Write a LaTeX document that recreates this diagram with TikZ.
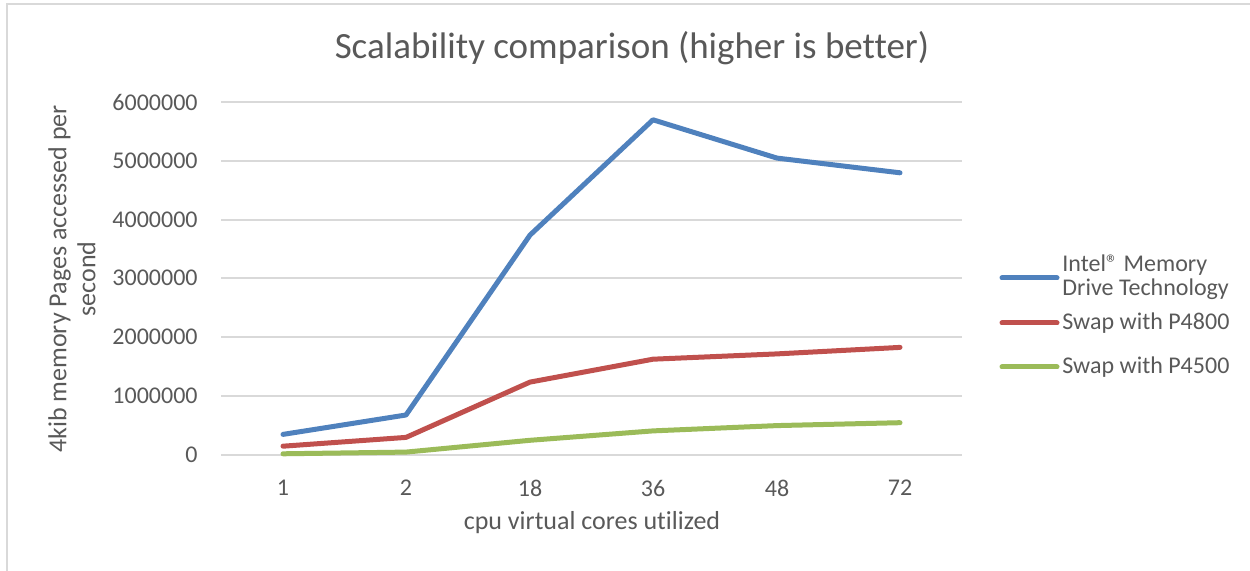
\documentclass[tikz,border=0pt]{standalone}
\usepackage{xcolor}
\usepackage{fontspec}
\setmainfont{Carlito}[Ligatures=NoCommon]
\usepackage{tikz}
\usetikzlibrary{positioning}

\definecolor{txtgray}{HTML}{595959}
\definecolor{gridgray}{HTML}{D9D9D9}
\definecolor{imdtblue}{HTML}{4F81BD}
\definecolor{swapred}{HTML}{C0504D}
\definecolor{swapgreen}{HTML}{9BBB59}

\tikzset{
	series/.style={line width=2.5pt, line cap=round, line join=round},
	gridline/.style={draw=gridgray, line width=1pt},
	ticklabel/.style={text=txtgray, font=\fontsize{12}{14}\selectfont, inner sep=0pt},
	axistitle/.style={text=txtgray, font=\fontsize{13}{14.5}\selectfont, inner sep=0pt, align=center},
	legendtext/.style={text=txtgray, font=\fontsize{12}{12}\selectfont, inner sep=0pt, align=left, anchor=west}
}

\begin{document}
\begin{tikzpicture}[x=0.5pt, y=-0.5pt]
				\useasboundingbox (0,0) rectangle (1250,571);
				\draw [gridgray, line width=1pt] (7,571) -- (7,4) -- (1250,4);
				
				\node [text=txtgray, font=\fontsize{18.5}{20}\selectfont, inner sep=0pt] (title) at (632,48) {Scalability comparison (higher is better)};
				
				% grid and value axis
				\draw [gridline] (221,102) -- (962,102);
				\draw [gridline] (221,161) -- (962,161);
				\draw [gridline] (221,220) -- (962,220);
				\draw [gridline] (221,278) -- (962,278);
				\draw [gridline] (221,337) -- (962,337);
				\draw [gridline] (221,396) -- (962,396);
				\draw [gridline] (221,455) -- (962,455);
				
				\node [ticklabel, anchor=east] (v6) at (198,102) {6000000};
				\node [ticklabel, anchor=east] (v5) at (198,161) {5000000};
				\node [ticklabel, anchor=east] (v4) at (198,220) {4000000};
				\node [ticklabel, anchor=east] (v3) at (198,278) {3000000};
				\node [ticklabel, anchor=east] (v2) at (198,337) {2000000};
				\node [ticklabel, anchor=east] (v1) at (198,396) {1000000};
				\node [ticklabel, anchor=east] (v0) at (198,455) {0};
				
				\node [ticklabel] (c1) at (283,488) {1};
				\node [ticklabel] (c2) at (406,488) {2};
				\node [ticklabel] (c18) at (530,488) {18};
				\node [ticklabel] (c36) at (653,488) {36};
				\node [ticklabel] (c48) at (777,488) {48};
				\node [ticklabel] (c72) at (900,488) {72};
				
				\node [axistitle] (xtitle) at (592,523) {cpu virtual cores utilized};
				\node [axistitle, rotate=90] (ytitle) at (72,279) {4kib memory Pages accessed per\\second};
				
				% series
				\draw [series, imdtblue] (283,434.4) -- (406,415) -- (530,235.1) -- (653,119.8) -- (777,158.1) -- (900,172.8);
				\draw [series, swapred] (283,446.2) -- (406,437.4) -- (530,382.1) -- (653,359.2) -- (777,353.9) -- (900,347.4);
				\draw [series, swapgreen] (283,453.8) -- (406,452.1) -- (530,440.3) -- (653,430.9) -- (777,425.6) -- (900,422.7);
				
				% legend
				\coordinate (blueL) at (1002,278);
				\coordinate (blueR) at (1057,278);
				\coordinate (redL) at (1002,323);
				\coordinate (redR) at (1057,323);
				\coordinate (greenL) at (1002,367);
				\coordinate (greenR) at (1057,367);
				\draw [series, imdtblue] (blueL) -- (blueR);
				\draw [series, swapred] (redL) -- (redR);
				\draw [series, swapgreen] (greenL) -- (greenR);
				
				\node [legendtext, right=2.5pt of blueR, yshift=0.5pt] (imdt) {Intel® Memory\\Drive Technology};
				\node [legendtext, right=2.5pt of redR] (p4800) {Swap with P4800};
				\node [legendtext, right=2.5pt of greenR] (p4500) {Swap with P4500};
				\end{tikzpicture}
\end{document}
